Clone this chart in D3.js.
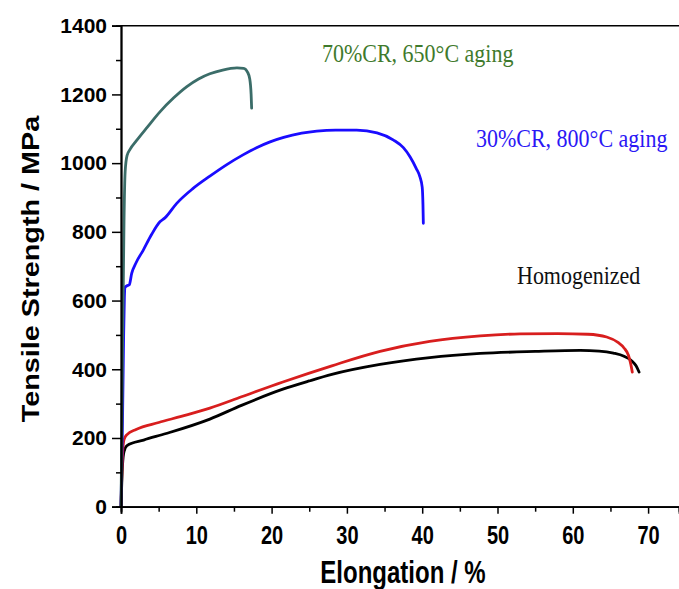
<!DOCTYPE html>
<html>
<head>
<meta charset="utf-8">
<script src="https://cdn.jsdelivr.net/npm/d3@7"></script>
<style>
  html, body { margin: 0; padding: 0; background: #fff; }
  svg { display: block; }
</style>
</head>
<body>
<svg id="chart" width="679" height="589"></svg>
<script>
// Tensile stress–strain curves, [elongation %, strength MPa]
const cr70Aged650 = [
  [0, 0], [0.1, 200], [0.2, 450], [0.3, 640], [0.4, 830], [0.55, 975], [0.8, 1022],
  [1.2, 1040], [2, 1064], [3.5, 1105], [5.2, 1150], [7, 1190], [8.7, 1222],
  [10.3, 1245], [11.8, 1260], [13.5, 1271], [15.4, 1277], [16.3, 1276],
  [16.8, 1265], [17.1, 1245], [17.28, 1200], [17.35, 1160]
];
const cr30Aged800 = [
  [0, 0], [0.2, 250], [0.35, 500], [0.45, 610], [0.53, 638], [0.8, 643],
  [1.1, 646], [1.42, 679], [2, 710], [2.96, 747], [4, 790], [5.2, 830],
  [5.8, 840], [7.4, 883], [9.5, 925], [11.8, 962], [14, 995], [16.2, 1024],
  [18, 1045], [19.8, 1062], [21.6, 1075], [24, 1087], [26, 1093], [28.5, 1096],
  [31.3, 1096], [34, 1088], [36.2, 1067], [37.5, 1045], [38.4, 1018], [39.2, 985],
  [39.7, 960], [40.0, 930], [40.1, 880], [40.15, 825]
];
const homogenizedRed = [
  [0, 0], [0.2, 150], [0.4, 195], [0.8, 210], [2, 225], [5, 245], [8, 263],
  [11.8, 287], [16, 320], [21.5, 363], [28, 410], [34.4, 452], [41, 481],
  [47.7, 497], [53, 503], [58, 504], [62, 502], [64.5, 494], [66, 478],
  [66.8, 462], [67.4, 440], [67.7, 415], [67.9, 392]
];
const homogenizedBlack = [
  [0, 0], [0.2, 120], [0.4, 160], [0.8, 178], [3, 194], [6, 213], [11.8, 255],
  [16, 295], [21.5, 342], [25, 366], [28, 385], [34.4, 414], [41, 434],
  [47.7, 446], [55, 452], [61, 455], [63.5, 453], [65.4, 447], [66.8, 438],
  [67.8, 425], [68.4, 410], [68.8, 392]
];

const xMajorTicks = [0, 10, 20, 30, 40, 50, 60, 70];
const xMinorTicks = [5, 15, 25, 35, 45, 55, 65];
const yMajorTicks = [0, 200, 400, 600, 800, 1000, 1200, 1400];
const yMinorTicks = [100, 300, 500, 700, 900, 1100, 1300];

const seriesLabels = [
  { text: "70%CR, 650°C aging", color: "#3f7a2c" },
  { text: "30%CR, 800°C aging", color: "#2b17f5" },
  { text: "Homogenized", color: "#111111" }
];

const svg = d3.select("#chart");
const plot = { left: 121, right: 679, top: 25.7, bottom: 506.7 };

const x = d3.scaleLinear()
  .domain([0, (plot.right - plot.left) / 7.53])
  .range([plot.left, plot.right]);
const y = d3.scaleLinear().domain([0, 1400]).range([plot.bottom, plot.top]);

const sansBold = "Arial, 'Liberation Sans', sans-serif";
const serif = "'Times New Roman', 'Liberation Serif', serif";

// curves
const line = d3.line().x(d => x(d[0])).y(d => y(d[1])).curve(d3.curveMonotoneX);
const curves = [
  { data: homogenizedBlack, color: "#000000" },
  { data: homogenizedRed, color: "#d81e1e" },
  { data: cr30Aged800, color: "#1a0cff" },
  { data: cr70Aged650, color: "#3b6d69" }
];
svg.append("g").selectAll("path").data(curves).join("path")
  .attr("d", d => line(d.data))
  .attr("fill", "none")
  .attr("stroke", d => d.color)
  .attr("stroke-width", 2.8)
  .attr("stroke-linejoin", "round")
  .attr("stroke-linecap", "round");

// top frame line
svg.append("line")
  .attr("x1", plot.left).attr("x2", plot.right)
  .attr("y1", plot.top).attr("y2", plot.top)
  .attr("stroke", "#000").attr("stroke-width", 1.6);

// x axis (labels drawn tall and narrow)
const xAxis = svg.append("g").attr("transform", `translate(0,${plot.bottom})`);
xAxis.call(d3.axisBottom(x).tickValues(xMajorTicks).tickSize(7).tickFormat(d3.format("d")));
xAxis.append("g").call(d3.axisBottom(x).tickValues(xMinorTicks).tickSize(5).tickFormat(""));
xAxis.selectAll(".domain").attr("stroke-width", 1.8);
xAxis.selectAll(".tick line").attr("stroke-width", 1.5);
xAxis.selectAll(".tick text")
  .attr("y", 0).attr("dy", null)
  .attr("transform", "translate(0,37) scale(1,1.3)")
  .attr("font-family", sansBold).attr("font-weight", "bold")
  .attr("font-size", 20).attr("fill", "#000");

// y axis
const yAxis = svg.append("g").attr("transform", `translate(${plot.left},0)`);
yAxis.call(d3.axisLeft(y).tickValues(yMajorTicks).tickSize(9).tickPadding(5).tickFormat(d3.format("d")));
yAxis.append("g").call(d3.axisLeft(y).tickValues(yMinorTicks).tickSize(5).tickFormat(""));
yAxis.selectAll(".domain").attr("stroke-width", 1.8);
yAxis.selectAll(".tick line").attr("stroke-width", 1.5);
yAxis.selectAll(".tick text")
  .attr("font-family", sansBold).attr("font-weight", "bold")
  .attr("font-size", 21).attr("fill", "#000");

// axis titles
svg.append("text")
  .attr("transform", "translate(403,583) scale(1,1.3)")
  .attr("text-anchor", "middle")
  .attr("font-family", sansBold).attr("font-weight", "bold").attr("font-size", 24)
  .text("Elongation / %");
svg.append("text")
  .attr("transform", "translate(39,269) rotate(-90) scale(1.2,1)")
  .attr("text-anchor", "middle")
  .attr("font-family", sansBold).attr("font-weight", "bold").attr("font-size", 24)
  .text("Tensile Strength / MPa");

// series annotations
const labelPos = [[322, 62], [476, 147], [517, 284]];
svg.append("g").selectAll("text").data(seriesLabels).join("text")
  .attr("transform", (d, i) => `translate(${labelPos[i][0]},${labelPos[i][1]}) scale(1,1.1)`)
  .attr("font-family", serif).attr("font-size", 22)
  .attr("fill", d => d.color)
  .text(d => d.text);
</script>
</body>
</html>
